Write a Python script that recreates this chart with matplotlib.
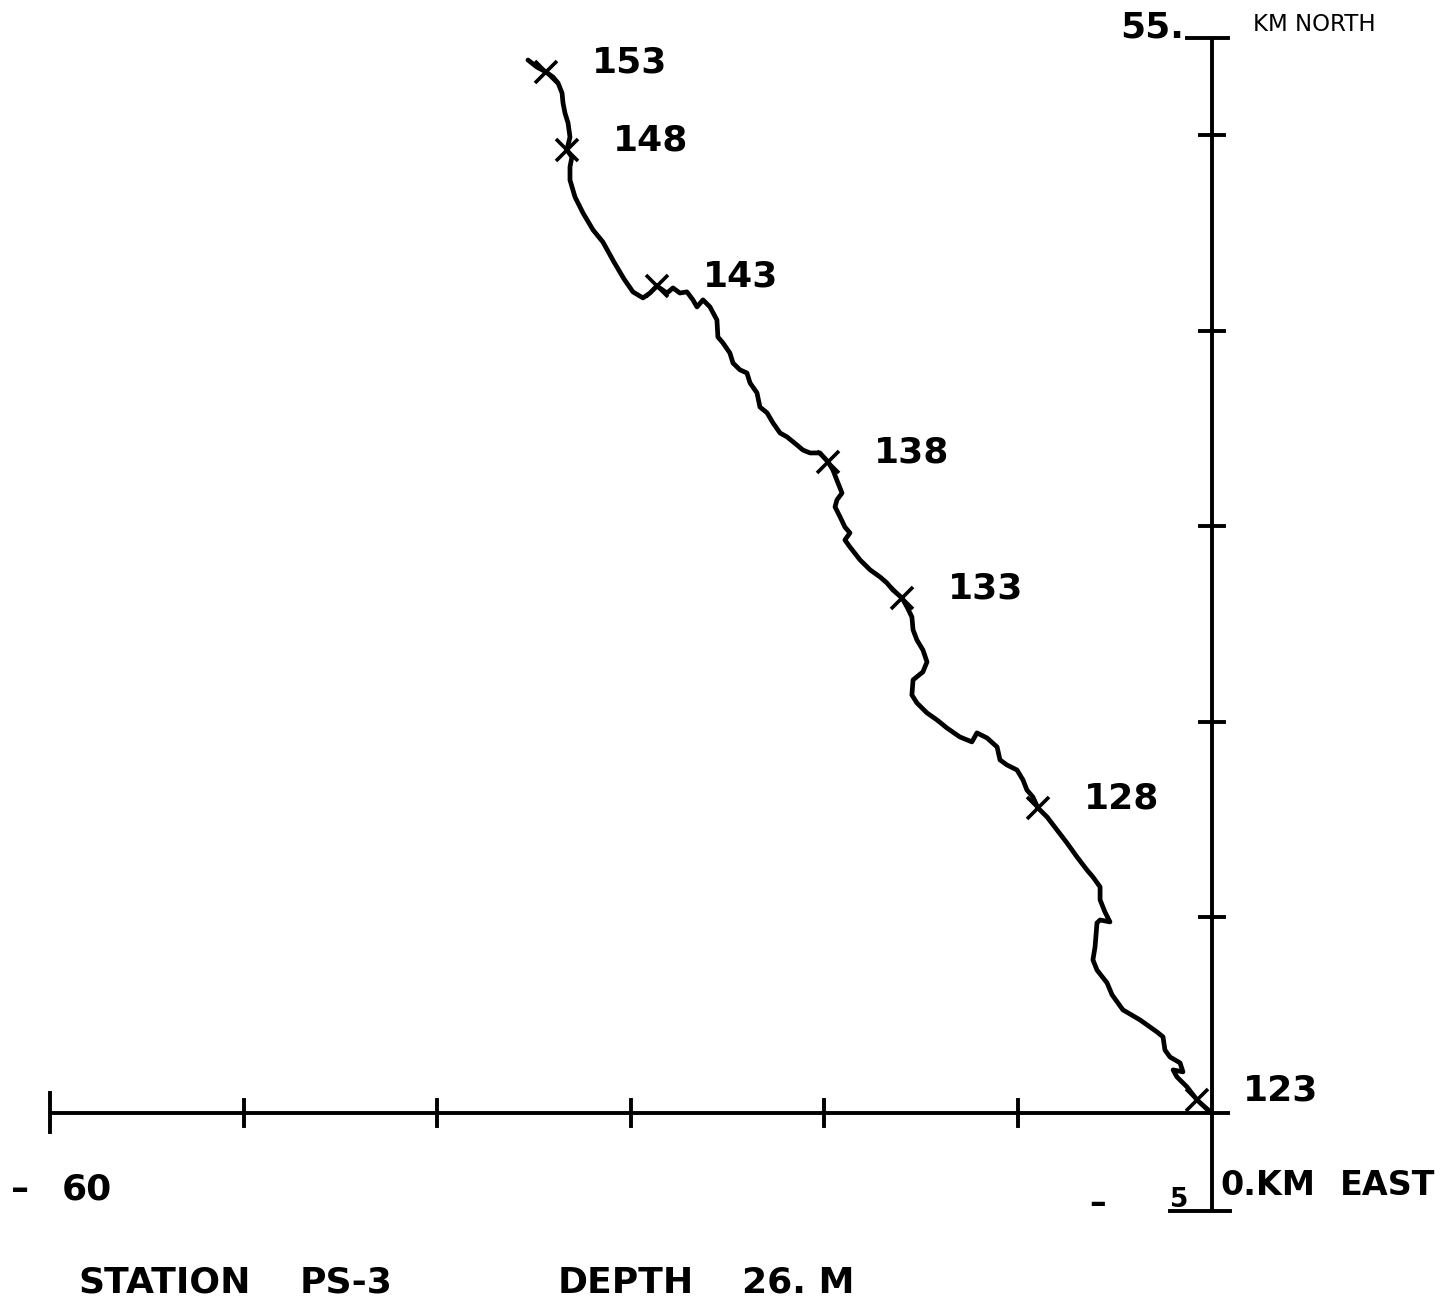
import matplotlib
matplotlib.use("Agg")
import matplotlib.pyplot as plt

# Progressive vector diagram, station PS-3 (26 m): cumulative displacement in km
east_km = [0.00, -0.75, -1.27, -1.79, -1.99, -1.48, -1.63, -2.15, -2.41, -2.51,
           -2.82, -3.70, -4.58, -5.14, -5.40, -5.92, -6.13, -6.02, -5.92, -5.76,
           -5.25, -5.51, -5.76, -5.76, -6.13, -6.44, -6.95, -7.47, -7.99, -8.50,
           -8.97, -9.23, -9.54, -9.74, -10.05, -10.57, -10.93, -11.08, -11.60, -12.12,
           -12.38, -13.00, -13.67, -14.18, -14.70, -15.22, -15.48, -15.42, -14.91, -14.70,
           -14.91, -15.22, -15.42, -15.48, -15.73, -15.99, -16.46, -16.77, -17.13, -17.64,
           -18.16, -18.68, -18.94, -18.68, -18.94, -19.19, -19.45, -19.35, -19.09, -19.30,
           -19.56, -19.81, -20.23, -20.74, -21.11, -21.42, -21.93, -22.29, -22.65, -22.96,
           -23.33, -23.48, -23.84, -24.00, -24.36, -24.72, -24.88, -25.24, -25.50, -25.55,
           -25.91, -26.27, -26.58, -26.79, -27.10, -27.46, -27.82, -28.13, -28.65, -29.01,
           -29.37, -29.89, -30.35, -30.87, -31.44, -31.95, -32.47, -32.88, -33.14, -33.14,
           -33.04, -33.30, -33.14, -33.24, -33.40, -33.50, -33.55, -33.76, -34.02, -34.38,
           -34.85, -35.31]
north_km = [0.00, 0.66, 1.33, 1.84, 2.20, 2.10, 2.56, 2.86, 3.22, 3.89,
            4.14, 4.76, 5.27, 6.04, 6.65, 7.31, 7.83, 8.49, 9.72, 9.87,
            9.77, 10.28, 10.90, 11.56, 12.07, 12.43, 13.09, 13.81, 14.48, 15.14,
            15.60, 16.16, 16.52, 17.03, 17.54, 17.80, 18.06, 18.72, 19.18, 19.44,
            18.98, 19.23, 19.69, 20.10, 20.46, 20.97, 21.38, 22.15, 22.56, 23.07,
            23.68, 24.19, 24.71, 25.37, 25.88, 26.34, 26.75, 27.11, 27.42, 27.78,
            28.29, 28.95, 29.31, 29.67, 29.97, 30.49, 31.00, 31.36, 31.71, 32.23,
            32.89, 33.30, 33.76, 33.76, 33.91, 34.17, 34.58, 34.78, 35.29, 35.81,
            36.11, 36.83, 37.34, 37.85, 38.01, 38.36, 38.87, 39.39, 39.69, 40.56,
            41.23, 41.59, 41.23, 41.59, 42.00, 41.94, 42.20, 41.94, 42.30, 41.94,
            41.69, 42.00, 42.66, 43.53, 44.55, 45.17, 46.04, 46.85, 47.72, 48.39,
            48.90, 49.26, 49.92, 50.64, 51.15, 51.66, 52.17, 52.69, 52.99, 53.25,
            53.50, 53.86]

# Day marks along the track (index into the track arrays) and their labels
mark_idx = [1, 30, 55, 71, 98, 111, 119]
mark_labels = ["123", "128", "133", "138", "143", "148", "153"]

# Axis layout
x_range = [-60, 0]
y_range = [-5, 55]
x_ticks = [-50, -40, -30, -20, -10]
y_ticks = [10, 20, 30, 40, 50]

ink = "black"
fig = plt.figure(figsize=(14.48, 13.0), dpi=100)
ax = fig.add_axes([0, 0, 1, 1])
ax.set_xlim(-62.58, 12.21)
ax.set_ylim(-9.57, 56.93)
ax.axis("off")

axis_lw = 2.8
# East axis with end tick at -60
ax.plot([x_range[0], 0.95], [0, 0], color=ink, lw=axis_lw, solid_capstyle="butt")
ax.plot([x_range[0], x_range[0]], [-1.0, 1.0], color=ink, lw=axis_lw)
for xt in x_ticks:
    ax.plot([xt, xt], [-0.66, 0.66], color=ink, lw=axis_lw)

# North axis with end ticks at -5 and 55
ax.plot([0, 0], [y_range[0], y_range[1]], color=ink, lw=axis_lw, solid_capstyle="butt")
ax.plot([-1.25, 0.85], [y_range[1], y_range[1]], color=ink, lw=axis_lw)
ax.plot([-2.15, 0.95], [y_range[0], y_range[0]], color=ink, lw=axis_lw)
for yt in y_ticks:
    ax.plot([-0.62, 0.62], [yt, yt], color=ink, lw=axis_lw)

# Track
ax.plot(east_km, north_km, color=ink, lw=3.4, solid_joinstyle="round",
        solid_capstyle="round")

# Day marks
mx = [east_km[i] for i in mark_idx]
my = [north_km[i] for i in mark_idx]
ax.plot(mx, my, linestyle="none", marker="x", markersize=16, mew=2.6, color=ink)
for x, y, lab in zip(mx, my, mark_labels):
    ax.annotate(lab, (x, y), xytext=(33, 7), textcoords="offset points",
                ha="left", va="center", fontsize=26, fontweight="bold",
                family="DejaVu Sans", color=ink)

bold = dict(family="DejaVu Sans", fontweight="bold", color=ink)

# Axis annotations
ax.text(-1.4, 55.0, "55.", ha="right", va="baseline", fontsize=26, **bold)
ax.text(2.15, 55.35, "KM NORTH", ha="left", va="baseline", fontsize=16.5,
        family="DejaVu Sans", color=ink)
ax.text(-62.0, -4.45, "\u2013", ha="left", va="baseline", fontsize=26, **bold)
ax.text(-59.4, -4.45, "60", ha="left", va="baseline", fontsize=26, **bold)
ax.text(-6.3, -5.1, "\u2013", ha="left", va="baseline", fontsize=24, **bold)
ax.text(-2.15, -4.8, "5", ha="left", va="baseline", fontsize=19, **bold)
ax.text(0.45, -4.2, "0.KM", ha="left", va="baseline", fontsize=24, **bold)
ax.text(6.6, -4.2, "EAST", ha="left", va="baseline", fontsize=24, **bold)

# Station caption
ax.text(-58.55, -9.2, "STATION", ha="left", va="baseline", fontsize=26, **bold)
ax.text(-47.1, -9.2, "PS-3", ha="left", va="baseline", fontsize=26, **bold)
ax.text(-33.8, -9.2, "DEPTH", ha="left", va="baseline", fontsize=26, **bold)
ax.text(-24.25, -9.2, "26. M", ha="left", va="baseline", fontsize=26, **bold)

fig.savefig("out.png", dpi=100, facecolor="white")
